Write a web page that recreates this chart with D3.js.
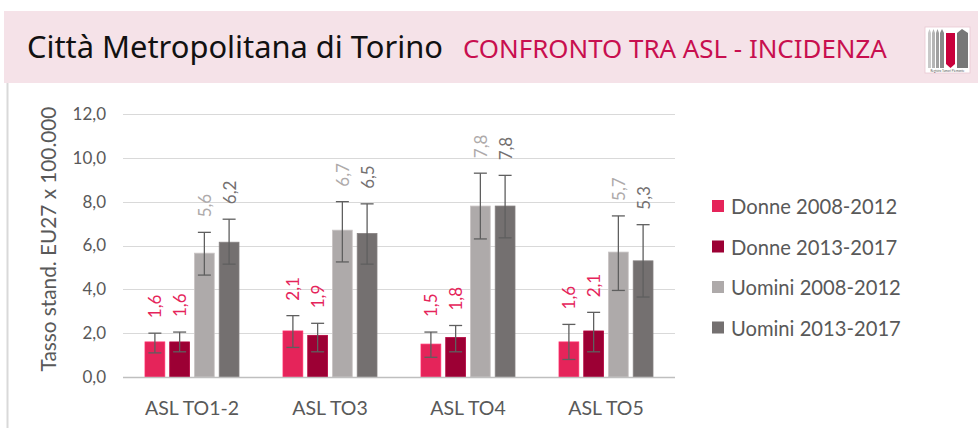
<!DOCTYPE html>
<html><head><meta charset="utf-8">
<script src="https://cdn.jsdelivr.net/npm/d3@7"></script>
<style>html,body{margin:0;padding:0;background:#fff;}svg{display:block;}</style>
</head><body>
<script>
const categories = ["ASL TO1-2", "ASL TO3", "ASL TO4", "ASL TO5"];
const seriesNames = ["Donne 2008-2012", "Donne 2013-2017", "Uomini 2008-2012", "Uomini 2013-2017"];
const seriesColors = ["#e5245a", "#9c0034", "#aeaaaa", "#747070"];
const labelColors = ["#e5245a", "#e5245a", "#aeaaaa", "#747070"];
const values = [
  [1.6, 2.1, 1.5, 1.6],
  [1.6, 1.9, 1.8, 2.1],
  [5.65, 6.7, 7.8, 5.7],
  [6.15, 6.55, 7.8, 5.3]
];
const valueLabels = [
  ["1,6", "2,1", "1,5", "1,6"],
  ["1,6", "1,9", "1,8", "2,1"],
  ["5,6", "6,7", "7,8", "5,7"],
  ["6,2", "6,5", "7,8", "5,3"]
];
const ciLow = [
  [1.1, 1.35, 0.9, 0.8],
  [1.15, 1.15, 1.15, 1.15],
  [4.65, 5.25, 6.3, 3.95],
  [5.15, 5.15, 6.35, 3.65]
];
const ciHigh = [
  [2.0, 2.8, 2.05, 2.4],
  [2.05, 2.45, 2.35, 2.95],
  [6.6, 8.0, 9.3, 7.35],
  [7.2, 7.9, 9.2, 6.95]
];
const yTicks = [0, 2, 4, 6, 8, 10, 12];
const yTickLabels = ["0,0", "2,0", "4,0", "6,0", "8,0", "10,0", "12,0"];
const yTitle = "Tasso stand. EU27 x 100.000";
const title = "Città Metropolitana di Torino";
const subtitle = "CONFRONTO TRA ASL - INCIDENZA";

const W = 978, H = 428;
const FONT = "Lato, 'Open Sans', sans-serif";
const svg = d3.select("body").append("svg").attr("width", W).attr("height", H);

// header band
svg.append("rect").attr("x", 4).attr("y", 11).attr("width", W - 4).attr("height", 72).attr("fill", "#f5e2e8");
svg.append("line").attr("x1", 7.5).attr("x2", 7.5).attr("y1", 83).attr("y2", H).attr("stroke", "#d9d9d9").attr("stroke-width", 2);

function fitText(sel, target) {
  const w = sel.node().getComputedTextLength();
  const fs = parseFloat(sel.attr("font-size"));
  sel.attr("font-size", fs * target / w);
}
const t1 = svg.append("text").attr("x", 27).attr("y", 58).attr("font-family", "'Noto Sans', sans-serif")
  .attr("font-size", 24).attr("fill", "#111").text(title);
fitText(t1, 416);
const t2 = svg.append("text").attr("x", 463).attr("y", 58).attr("font-family", "'Noto Sans', sans-serif")
  .attr("font-size", 20).attr("fill", "#c80f4f").text(subtitle);
fitText(t2, 424);

// logo
const lg = svg.append("g");
lg.append("rect").attr("x", 925).attr("y", 27).attr("width", 45).attr("height", 46).attr("fill", "#fff").attr("stroke", "#e8c9d3").attr("stroke-width", 0.8);
const strips = [[928, 3, "#c9c9c9"], [932, 3, "#b5b5b5"], [936, 3, "#a0a0a0"], [940, 4, "#8a8a8a"]];
strips.forEach(s => lg.append("path").attr("d", `M${s[0]},68 V33 L${s[0] + s[1] / 2},29 L${s[0] + s[1]},33 V68 Z`).attr("fill", s[2]));
lg.append("path").attr("d", "M946,33 H955 V64 L950.5,68 L946,64 Z").attr("fill", "#c8003c");
lg.append("path").attr("d", "M957,68 V33 L962,29 L968,33 V68 Z").attr("fill", "#777");
lg.append("text").attr("x", 947.5).attr("y", 71.5).attr("text-anchor", "middle").attr("font-size", 3).attr("font-family", FONT).attr("fill", "#555").text("Registro Tumori Piemonte");

// plot
const plot = { left: 123, right: 675, top: 114, bottom: 377 };
const y = d3.scaleLinear().domain([0, 12]).range([plot.bottom, plot.top]);
const x0 = d3.scaleBand().domain(categories).range([plot.left, plot.right]).padding(0);
const x1 = d3.scaleBand().domain(seriesNames).range([22, 116]).paddingInner(0.2).paddingOuter(0);

// gridlines
svg.append("g").selectAll("line").data(yTicks.filter(d => d > 0)).join("line")
  .attr("x1", plot.left).attr("x2", plot.right)
  .attr("y1", d => Math.round(y(d)) + 0.5).attr("y2", d => Math.round(y(d)) + 0.5)
  .attr("stroke", "#d9d9d9").attr("stroke-width", 1);

// y axis labels
const yAxis = d3.axisLeft(y).tickValues(yTicks).tickFormat((d, i) => yTickLabels[i]).tickSize(0).tickPadding(0);
const ya = svg.append("g").attr("transform", `translate(106,0)`).call(yAxis);
ya.select(".domain").remove();
ya.selectAll("text").attr("font-family", FONT).attr("font-size", 17).attr("fill", "#595959");

const yt = svg.append("text").attr("transform", `translate(48,239) rotate(-90)`).attr("text-anchor", "middle")
  .attr("dominant-baseline", "central")
  .attr("font-family", FONT).attr("font-size", 20).attr("fill", "#595959").text(yTitle);
fitText(yt, 265);

// bars
const groups = svg.append("g").selectAll("g").data(categories).join("g")
  .attr("transform", d => `translate(${x0(d)},0)`);
groups.each(function (cat, ci) {
  const g = d3.select(this);
  seriesNames.forEach((s, si) => {
    const v = values[si][ci];
    const bx = x1(s), bw = x1.bandwidth();
    g.append("rect").attr("x", bx).attr("y", y(v)).attr("width", bw).attr("height", y(0) - y(v))
      .attr("fill", seriesColors[si]).attr("stroke", d3.color(seriesColors[si]).brighter(0.4)).attr("stroke-width", 0.8);
    const cx = bx + bw / 2;
    const lo = y(ciLow[si][ci]), hi = y(ciHigh[si][ci]);
    g.append("line").attr("x1", cx).attr("x2", cx).attr("y1", lo).attr("y2", hi).attr("stroke", "#5f5f5f").attr("stroke-width", 1.3);
    [lo, hi].forEach(yy => g.append("line").attr("x1", cx - 6.5).attr("x2", cx + 6.5).attr("y1", yy).attr("y2", yy).attr("stroke", "#5f5f5f").attr("stroke-width", 1.3));
    g.append("text").attr("transform", `translate(${cx},${hi - 15}) rotate(-90)`)
      .attr("dominant-baseline", "central").attr("text-anchor", "start")
      .attr("font-family", FONT).attr("font-size", 17).attr("fill", labelColors[si]).text(valueLabels[si][ci]);
  });
});

// x axis
svg.append("line").attr("x1", plot.left).attr("x2", plot.right).attr("y1", plot.bottom + 0.5).attr("y2", plot.bottom + 0.5)
  .attr("stroke", "#bfbfbf").attr("stroke-width", 1.5);
const xAxis = d3.axisBottom(x0).tickSize(0).tickPadding(0);
const xa = svg.append("g").attr("transform", `translate(0,${plot.bottom})`).call(xAxis);
xa.select(".domain").remove();
xa.selectAll("text").attr("dy", null).attr("y", 38).attr("font-family", FONT).attr("font-size", 19.5).attr("fill", "#595959");

// legend
const leg = svg.append("g").selectAll("g").data(seriesNames).join("g")
  .attr("transform", (d, i) => `translate(712,${206 + i * 40.5})`);
leg.append("rect").attr("x", 0).attr("y", -6).attr("width", 12).attr("height", 12).attr("fill", (d, i) => seriesColors[i]);
leg.append("text").attr("x", 19).attr("y", 0).attr("dominant-baseline", "central")
  .attr("font-family", FONT).attr("font-size", 20.2).attr("fill", "#595959").text(d => d);
</script>
</body></html>
